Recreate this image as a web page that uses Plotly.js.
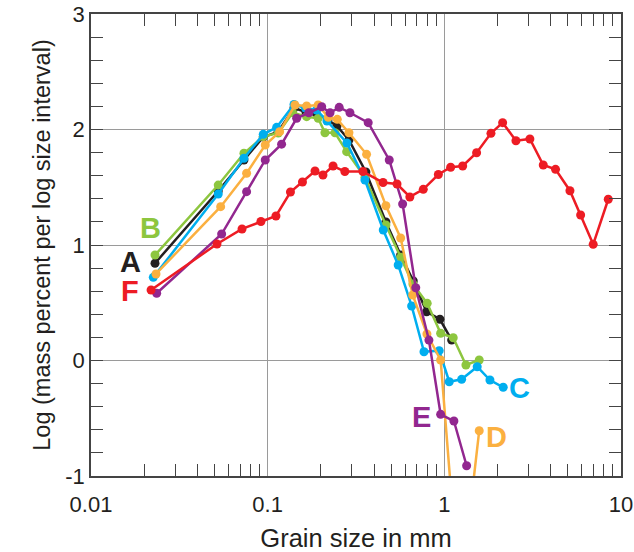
<!DOCTYPE html>
<html>
<head>
<meta charset="utf-8">
<script src="https://cdn.plot.ly/plotly-3.0.1.min.js"></script>
<style>html,body{margin:0;padding:0;background:#fff}#chart{width:634px;height:552px}</style>
</head>
<body>
<div id="chart"></div>
<script>
// Sample A (black)
const xA = [0.02303,0.0525,0.0734,0.0944,0.1144,0.1409,0.1647,0.1875,0.2193,0.2466,0.2884,0.3597,0.467,0.566,0.667,0.794,0.944,1.10];
const yA = [0.842,1.468,1.736,1.935,1.978,2.186,2.152,2.145,2.082,2.030,1.909,1.632,1.199,0.913,0.688,0.422,0.357,0.177];
// Sample B (green)
const xB = [0.02303,0.0525,0.0734,0.0944,0.1148,0.1385,0.1662,0.1931,0.211,0.2405,0.280,0.3554,0.467,0.566,0.664,0.80,0.953,1.123,1.325,1.576];
const yB = [0.913,1.519,1.794,1.938,1.970,2.145,2.111,2.097,1.972,1.972,1.808,1.586,1.173,0.893,0.662,0.495,0.236,0.197,-0.039,0.004];
// Sample C (cyan)
const xC = [0.02252,0.0525,0.0734,0.0944,0.1124,0.1409,0.1637,0.1892,0.2166,0.281,0.3554,0.451,0.548,0.653,0.767,0.935,1.066,1.253,1.535,1.812,2.154];
const yC = [0.720,1.442,1.751,1.958,2.019,2.216,2.186,2.169,2.074,1.883,1.563,1.130,0.827,0.472,0.076,0.085,-0.184,-0.163,-0.054,-0.169,-0.232];
// Sample D (orange)
const xD = [0.02333,0.0542,0.0760,0.0969,0.1169,0.1427,0.1662,0.1931,0.2203,0.2478,0.2884,0.363,0.467,0.566,0.662,0.797,0.953,1.222,1.576];
const yD = [0.749,1.332,1.621,1.866,1.981,2.212,2.203,2.212,2.106,2.088,1.972,1.785,1.340,1.061,0.567,0.229,0.004,-2.08,-0.608];
// Sample E (purple)
const xE = [0.02354,0.0549,0.0760,0.0969,0.1199,0.1459,0.171,0.2022,0.2254,0.254,0.2923,0.3707,0.4877,0.5806,0.689,0.818,0.953,1.133,1.337];
const yE = [0.582,1.095,1.462,1.736,1.873,2.097,2.145,2.197,2.145,2.192,2.145,2.059,1.736,1.355,0.630,0.177,-0.466,-0.524,-0.911];
// Sample F (red)
const xF = [0.02188,0.05165,0.0716,0.0916,0.1114,0.1346,0.1574,0.1854,0.2056,0.2345,0.2735,0.346,0.4498,0.5398,0.638,0.760,0.925,1.086,1.270,1.523,1.836,2.138,2.543,3.05,3.63,4.26,5.14,5.91,6.96,8.47];
const yF = [0.610,1.009,1.139,1.203,1.251,1.459,1.545,1.641,1.606,1.684,1.636,1.636,1.541,1.528,1.416,1.482,1.610,1.673,1.684,1.799,1.967,2.059,1.903,1.918,1.693,1.655,1.470,1.260,1.006,1.396];

// tick labels
const xTickVals = [0.01,0.1,1,10];
const xTickText = ['0.01','0.1','1','10'];
const yTickVals = [-1,0,1,2,3];
const yTickText = ['-1','0','1','2','3'];
const xMinorVals = [0.02,0.03,0.04,0.05,0.06,0.07,0.08,0.09,0.2,0.3,0.4,0.5,0.6,0.7,0.8,0.9,2,3,4,5,6,7,8,9];

const seriesNames = ['A','B','C','D','E','F'];
const colors = {A:'#231f20', B:'#8dc63f', C:'#00aeef', D:'#fbb040', E:'#92278f', F:'#ed1c24'};
const data = {A:[xA,yA], B:[xB,yB], C:[xC,yC], D:[xD,yD], E:[xE,yE], F:[xF,yF]};

// label positions (log10 x, y)
const labelX = {A:-1.779, B:-1.666, C:0.428, D:0.296, E:-0.1285, F:-1.779};
const labelY = {A:0.855, B:1.145, C:-0.241, D:-0.665, E:-0.492, F:0.604};

const traces = seriesNames.map(n => ({
  x: data[n][0], y: data[n][1], type:'scatter', mode:'lines+markers', name:n,
  line:{color:colors[n], width:2.5}, marker:{color:colors[n], size:9},
  cliponaxis:true, showlegend:false
}));

const annotations = seriesNames.map(n => ({
  x: labelX[n], y: labelY[n], xref:'x', yref:'y', text:n, showarrow:false,
  font:{family:'Liberation Sans, Arial, sans-serif', size:29, color:colors[n], weight:'bold'},
  xanchor:'center', yanchor:'middle'
}));

const axisFont = {family:'Liberation Sans, Arial, sans-serif', size:22, color:'#231f20'};

const layout = {
  width:634, height:552,
  margin:{l:91, r:13, t:14, b:76},
  paper_bgcolor:'#fff', plot_bgcolor:'#fff',
  font:axisFont,
  xaxis:{
    type:'log', range:[-2,1],
    tickmode:'array', tickvals:xTickVals, ticktext:xTickText,
    ticks:'outside', ticklen:8, tickwidth:1, tickcolor:'rgba(0,0,0,0)',
    showgrid:true, gridcolor:'#9a9a9a', gridwidth:1,
    showline:true, linecolor:'#444', linewidth:1.5, mirror:'ticks',
    zeroline:false, tickfont:axisFont,
    minor:{tickmode:'array', tickvals:xMinorVals, ticks:'inside', ticklen:12, tickwidth:1, tickcolor:'#444', showgrid:false},
    title:{text:'Grain size in mm', font:{family:'Liberation Sans, Arial, sans-serif', size:25.5, color:'#231f20'}, standoff:13}
  },
  yaxis:{
    range:[-1,3],
    tickmode:'array', tickvals:yTickVals, ticktext:yTickText,
    ticks:'inside', ticklen:12, tickwidth:1, tickcolor:'#444',
    showgrid:true, gridcolor:'#9a9a9a', gridwidth:1,
    showline:true, linecolor:'#444', linewidth:1.5, mirror:'ticks',
    zeroline:false, tickfont:axisFont,
    minor:{dtick:0.2, ticks:'inside', ticklen:12, tickwidth:1, tickcolor:'#444', showgrid:false},
    title:{text:'Log (mass percent per log size interval)', font:{family:'Liberation Sans, Arial, sans-serif', size:23.5, color:'#231f20'}, standoff:8}
  },
  annotations:annotations
};

Plotly.newPlot('chart', traces, layout, {displayModeBar:false});
</script>
</body>
</html>
